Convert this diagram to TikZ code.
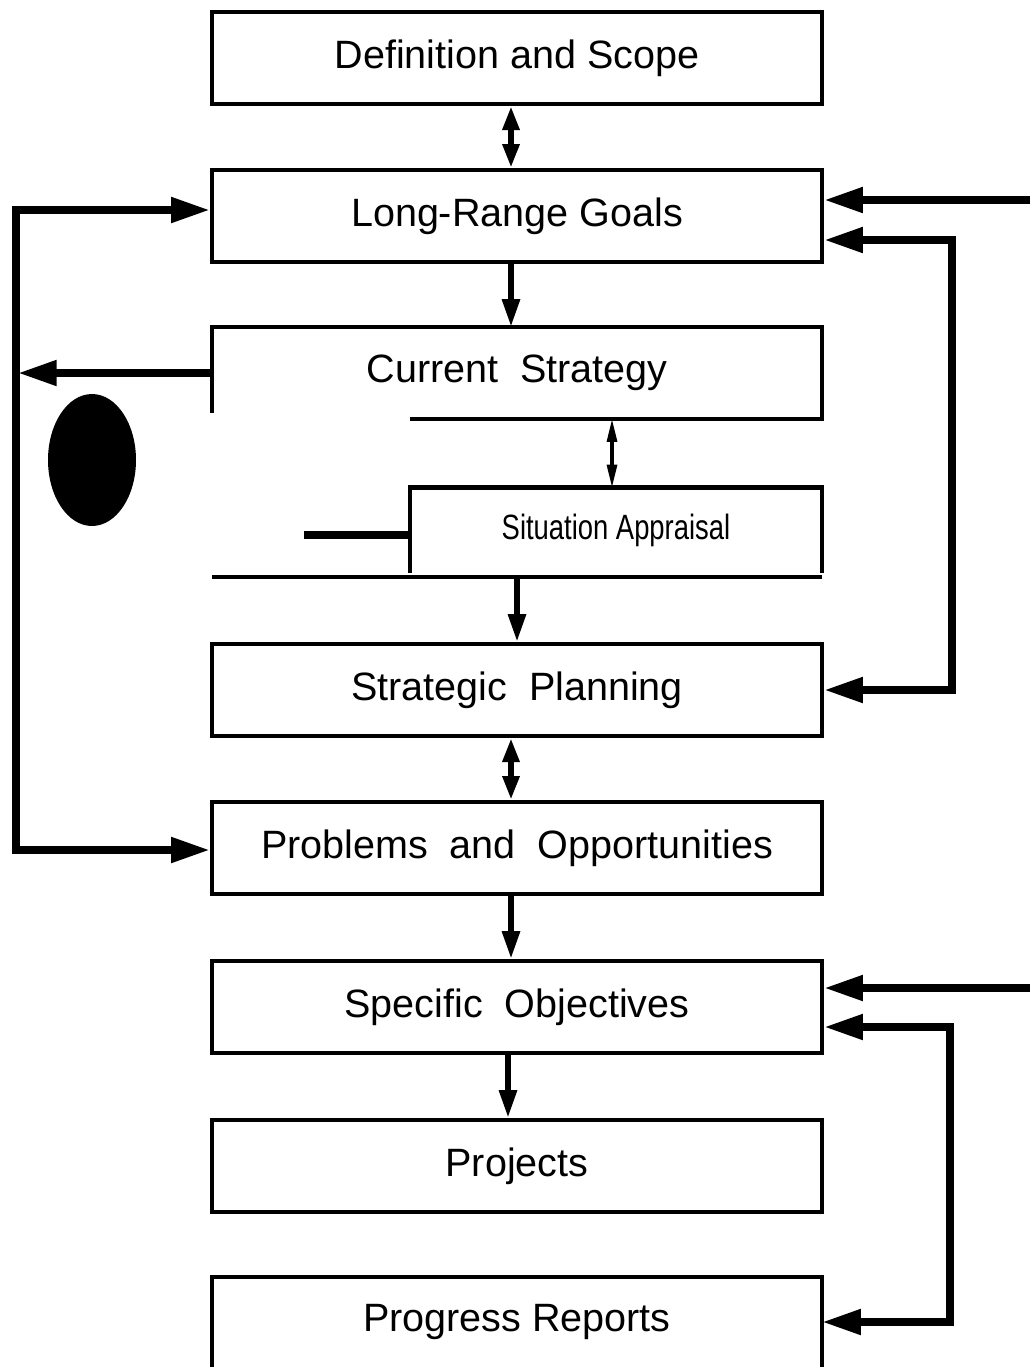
\documentclass[tikz,border=0pt]{standalone}
\usepackage{fontspec}
\setmainfont{Liberation Sans}
\newfontfamily\narrowfont[FakeStretch=0.78]{Liberation Sans}
\usetikzlibrary{arrows.meta,positioning}

\begin{document}
\begin{tikzpicture}[x=0.02cm, y=-0.02cm,
    box/.style={draw, line width=2.3pt, minimum width=12.2cm, minimum height=1.84cm,
                font=\fontsize{22.5}{27}\selectfont},
    openbox/.style={box, draw=none, outer sep=0pt},
    boxline/.style={line width=2.3pt},
    bigarrow/.style={line width=4.5pt, line join=miter, -{Triangle[length=0.78cm, width=0.48cm]}},
    bigboth/.style={line width=4.5pt, line join=miter, {Triangle[length=0.78cm, width=0.48cm]}-{Triangle[length=0.78cm, width=0.48cm]}},
    downarrow/.style={line width=3.4pt, -{Triangle[length=0.56cm, width=0.34cm]}},
    bothway/.style={line width=3.4pt, {Triangle[length=0.48cm, width=0.32cm]}-{Triangle[length=0.48cm, width=0.32cm]}},
    thinboth/.style={line width=1.8pt, {Triangle[length=0.46cm, width=0.2cm]}-{Triangle[length=0.46cm, width=0.2cm]}},
    stub/.style={line width=4.5pt}]
    \useasboundingbox (0,0) rectangle (1035,1367);

    % Boxes
    \node[box] (scope) at (517,58) {Definition and Scope};
    \node[box] (goals) at (517,216) {Long-Range Goals};
    \node[openbox] (current) at (517,373) {Current\ \ Strategy};
    \node[openbox, minimum width=8.24cm, minimum height=1.7cm,
          font=\narrowfont\fontsize{20}{24}\selectfont] (appraisal) at (616,530) {Situation Appraisal};
    \node[box] (planning) at (517,690) {Strategic\ \ Planning};
    \node[box] (problems) at (517,848) {Problems\ \ and\ \ Opportunities};
    \node[box] (objectives) at (517,1007) {Specific\ \ Objectives};
    \node[box] (projects) at (517,1166) {Projects};
    \node[openbox, minimum height=1.8cm] (reports) at (517,1322) {Progress Reports};

    % Open borders
    \draw[boxline] ([yshift=0.12cm]current.south west) -- (current.north west)
        -- (current.north east) -- (current.south east) -- (current.south east -| appraisal.west);
    \draw[boxline] (appraisal.south west) -- (appraisal.north west)
        -- (appraisal.north east) -- (appraisal.south east);
    \coordinate (split) at (517,577);
    \draw[boxline] (split -| current.west) -- (split -| current.east);
    \draw[boxline] (reports.south west) -- (reports.north west)
        -- (reports.north east) -- (reports.south east);

    % Blot
    \fill (92,460) ellipse [x radius=0.88cm, y radius=1.32cm];

    % Main column
    \draw[bothway] (goals.north -| 511,0) -- (scope.south -| 511,0);
    \draw[downarrow] (goals.south -| 511,0) -- (current.north -| 511,0);
    \draw[thinboth] (appraisal.north -| 612,0) -- (current.south -| 612,0);
    \draw[downarrow] (split) -- (planning.north);
    \draw[bothway] (problems.north -| 511,0) -- (planning.south -| 511,0);
    \draw[downarrow] (problems.south -| 511,0) -- (objectives.north -| 511,0);
    \draw[downarrow] (objectives.south -| 508,0) -- (projects.north -| 508,0);

    % Left loop
    \coordinate (lefttop) at (16,210);
    \coordinate (leftbot) at (16,850);
    \draw[bigboth] (lefttop -| goals.west) -- (lefttop) -- (leftbot) -- (leftbot -| problems.west);
    \draw[bigarrow, shorten >=1pt] (current.west) -- (current.west -| lefttop);
    \coordinate (stubend) at (304,535);
    \draw[stub] (stubend) -- (stubend -| appraisal.west);

    % Right side
    \coordinate (intop) at (1030,200);
    \draw[bigarrow] (intop) -- (intop -| goals.east);
    \coordinate (looptop) at (952,240);
    \draw[bigboth] (looptop -| goals.east) -- (looptop) -- (looptop |- planning.east) -- (planning.east);
    \coordinate (inlow) at (1030,988);
    \draw[bigarrow] (inlow) -- (inlow -| objectives.east);
    \coordinate (looplow) at (950,1027);
    \draw[bigboth] (looplow -| objectives.east) -- (looplow) -- (looplow |- reports.east) -- (reports.east);
\end{tikzpicture}
\end{document}
